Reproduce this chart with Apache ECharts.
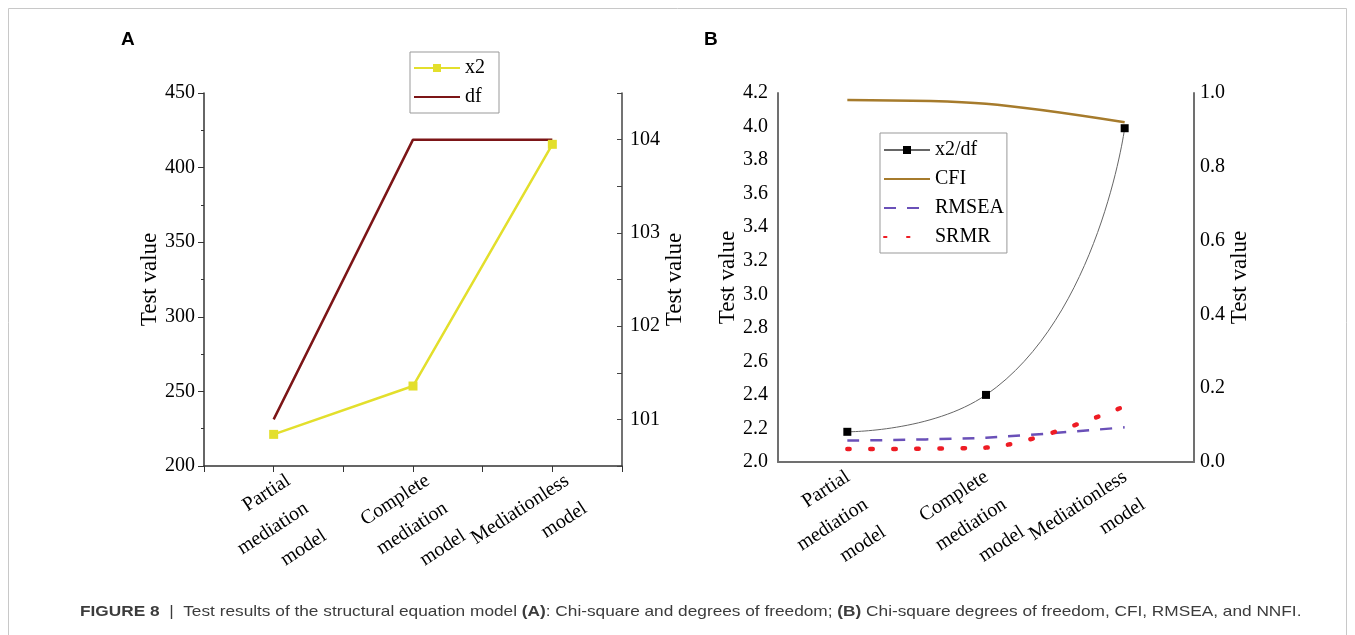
<!DOCTYPE html>
<html>
<head>
<meta charset="utf-8">
<script src="https://cdn.jsdelivr.net/npm/echarts@6/dist/echarts.min.js"></script>
<style>
html,body{margin:0;padding:0;background:#fff;}
#chart{width:1355px;height:635px;}
</style>
</head>
<body>
<div id="chart"></div>
<script>
// ---- data ----
const categories = ['Partial\nmediation\nmodel', 'Complete\nmediation\nmodel', 'Mediationless\nmodel'];
// Panel A
const chiSquare = [221.2, 253.6, 415.6];
const degreesOfFreedom = [101, 104, 104];
// Panel B
const chiSquareOverDf = [2.18, 2.40, 3.99];
const cfi = [0.981, 0.971, 0.921];
const rmsea = [0.058, 0.066, 0.094];
const srmr = [0.035, 0.039, 0.151];
// axis ranges
const axisA_left = {min: 200, max: 450, interval: 50};
const axisA_right = {min: 100.5, max: 104.5, interval: 0.5};
const axisB_left = {min: 2.0, max: 4.2, interval: 0.2};
const axisB_right = {min: 0.0, max: 1.0, interval: 0.2};

const SERIF = '"Liberation Serif", "Times New Roman", serif';
const SANS = '"Liberation Sans", Arial, sans-serif';
const chart = echarts.init(document.getElementById('chart'));

const nameStyle = {fontFamily: SERIF, fontSize: 23, color: '#000'};
const labelStyle = {fontFamily: SERIF, fontSize: 20, color: '#000'};
const noSymbol = {opacity: 0};

const option = {
  backgroundColor: '#fff',
  animation: false,
  grid: [
    {left: 204, top: 93, width: 418, height: 373, outerBoundsMode: 'none', containLabel: false},
    {left: 778, top: 93, width: 416, height: 369, outerBoundsMode: 'none', containLabel: false}
  ],
  legend: [
    {
      orient: 'vertical', left: 410, top: 52,
      data: [{name: 'x2'}, {name: 'df', itemStyle: noSymbol}],
      itemWidth: 46, itemHeight: 10, itemGap: 7,
      padding: [5, 14, 5, 3],
      borderColor: '#999', borderWidth: 1, backgroundColor: '#fff',
      textStyle: {fontFamily: SERIF, fontSize: 20, lineHeight: 22, color: '#000'}
    },
    {
      orient: 'vertical', left: 880, top: 133,
      data: [{name: 'x2/df'}, {name: 'CFI', itemStyle: noSymbol}, {name: 'RMSEA', itemStyle: noSymbol}, {name: 'SRMR', itemStyle: noSymbol}],
      itemWidth: 46, itemHeight: 10, itemGap: 7,
      padding: [6, 3, 5, 3],
      borderColor: '#999', borderWidth: 1, backgroundColor: '#fff',
      textStyle: {fontFamily: SERIF, fontSize: 20, lineHeight: 22, color: '#000'}
    }
  ],
  xAxis: [
    {
      type: 'category', gridIndex: 0, data: categories, position: 'bottom',
      boundaryGap: true,
      axisLine: {lineStyle: {color: '#333', width: 1.5}},
      axisTick: {show: true, interval: 0, length: 6, lineStyle: {color: '#333', width: 1}},
      axisLabel: Object.assign({interval: 0, rotate: 33, align: 'right', verticalAlign: 'top', margin: 3, padding: [0, -7, 0, 0], lineHeight: 33}, labelStyle),
      splitLine: {show: false}
    },
    {
      type: 'category', gridIndex: 0, data: categories, position: 'bottom',
      boundaryGap: true,
      axisLine: {show: false},
      axisTick: {show: true, alignWithLabel: true, interval: 0, length: 6, lineStyle: {color: '#333', width: 1}},
      axisLabel: {show: false},
      splitLine: {show: false}
    },
    {
      type: 'category', gridIndex: 1, data: categories, position: 'bottom',
      boundaryGap: true,
      axisLine: {lineStyle: {color: '#707070', width: 2}},
      axisTick: {show: false},
      axisLabel: Object.assign({interval: 0, rotate: 33, align: 'right', verticalAlign: 'top', margin: -6, padding: [0, 10, 0, 0], lineHeight: 33}, labelStyle),
      splitLine: {show: false}
    }
  ],
  yAxis: [
    {
      type: 'value', gridIndex: 0, position: 'left',
      min: axisA_left.min, max: axisA_left.max, interval: axisA_left.interval,
      name: 'Test value', nameLocation: 'middle', nameRotate: 90, nameGap: 37, nameTextStyle: nameStyle,
      axisLine: {show: true, lineStyle: {color: '#333', width: 1.5}},
      axisTick: {show: true, length: 6, lineStyle: {color: '#333'}},
      minorTick: {show: true, splitNumber: 2, length: 3, lineStyle: {color: '#333'}},
      axisLabel: Object.assign({margin: 9}, labelStyle),
      splitLine: {show: false}
    },
    {
      type: 'value', gridIndex: 0, position: 'right',
      min: axisA_right.min, max: axisA_right.max, interval: axisA_right.interval,
      name: 'Test value', nameLocation: 'middle', nameRotate: 90, nameGap: 40, nameTextStyle: nameStyle,
      axisLine: {show: true, lineStyle: {color: '#444', width: 1.5}},
      axisTick: {show: true, inside: true, length: 5, lineStyle: {color: '#444'}},
      axisLabel: Object.assign({margin: 8, formatter: v => (Math.abs(v - Math.round(v)) < 1e-6 ? String(Math.round(v)) : '')}, labelStyle),
      splitLine: {show: false}
    },
    {
      type: 'value', gridIndex: 1, position: 'left',
      min: axisB_left.min, max: axisB_left.max, interval: axisB_left.interval,
      name: 'Test value', nameLocation: 'middle', nameRotate: 90, nameGap: 31, nameTextStyle: nameStyle,
      axisLine: {show: true, lineStyle: {color: '#707070', width: 2}},
      axisTick: {show: false},
      axisLabel: Object.assign({margin: 10, formatter: v => v.toFixed(1)}, labelStyle),
      splitLine: {show: false}
    },
    {
      type: 'value', gridIndex: 1, position: 'right',
      min: axisB_right.min, max: axisB_right.max, interval: axisB_right.interval,
      name: 'Test value', nameLocation: 'middle', nameRotate: 90, nameGap: 34, nameTextStyle: nameStyle,
      axisLine: {show: true, lineStyle: {color: '#707070', width: 2}},
      axisTick: {show: false},
      axisLabel: Object.assign({margin: 6, formatter: v => v.toFixed(1)}, labelStyle),
      splitLine: {show: false}
    }
  ],
  series: [
    {
      name: 'df', type: 'line', xAxisIndex: 0, yAxisIndex: 1, data: degreesOfFreedom,
      symbol: 'none', lineStyle: {color: '#7c1517', width: 2.5}, itemStyle: {color: '#7c1517'}, z: 2
    },
    {
      name: 'x2', type: 'line', xAxisIndex: 0, yAxisIndex: 0, data: chiSquare,
      symbol: 'rect', symbolSize: 9, lineStyle: {color: '#e3df2c', width: 2.5}, itemStyle: {color: '#e3df2c'}, z: 3
    },
    {
      name: 'CFI', type: 'line', xAxisIndex: 2, yAxisIndex: 3, data: cfi, smooth: 0.3,
      symbol: 'none', lineStyle: {color: '#a67b2c', width: 2.5}, itemStyle: {color: '#a67b2c'}
    },
    {
      name: 'RMSEA', type: 'line', xAxisIndex: 2, yAxisIndex: 3, data: rmsea, smooth: 0.3,
      symbol: 'none', lineStyle: {color: '#6a50b8', width: 2.5, type: [12, 11]}, itemStyle: {color: '#6a50b8'}
    },
    {
      name: 'SRMR', type: 'line', xAxisIndex: 2, yAxisIndex: 3, data: srmr, smooth: 0.3,
      symbol: 'none', lineStyle: {color: '#ee1c24', width: 4.5, type: [2.5, 20.5], cap: 'round'}, itemStyle: {color: '#ee1c24'}
    },
    {
      name: 'x2/df', type: 'line', xAxisIndex: 2, yAxisIndex: 2, data: chiSquareOverDf, smooth: 0.6,
      symbol: 'rect', symbolSize: 8, lineStyle: {color: '#666', width: 1}, itemStyle: {color: '#000'}, z: 4
    }
  ],
  graphic: [
    {type: 'rect', shape: {x: 8.5, y: 8.5, width: 1338, height: 660}, style: {fill: 'none', stroke: '#c8c8c8', lineWidth: 1}, silent: true, z: -10},
    {type: 'text', left: 121, top: 30, style: {text: 'A', fontFamily: SANS, fontWeight: 'bold', fontSize: 19, fill: '#000'}},
    {type: 'text', left: 704, top: 30, style: {text: 'B', fontFamily: SANS, fontWeight: 'bold', fontSize: 19, fill: '#000'}},
    {type: 'text', x: 80, y: 604, scaleX: 1.19, style: {
      text: '{b|FIGURE 8}  |  Test results of the structural equation model {b|(A)}: Chi-square and degrees of freedom; {b|(B)} Chi-square degrees of freedom, CFI, RMSEA, and NNFI.',
      fontFamily: SANS, fontSize: 14.5, fill: '#3c3c3c',
      rich: {b: {fontFamily: SANS, fontWeight: 'bold', fontSize: 14.5, fill: '#3c3c3c'}}
    }}
  ]
};
chart.setOption(option);
</script>
</body>
</html>
